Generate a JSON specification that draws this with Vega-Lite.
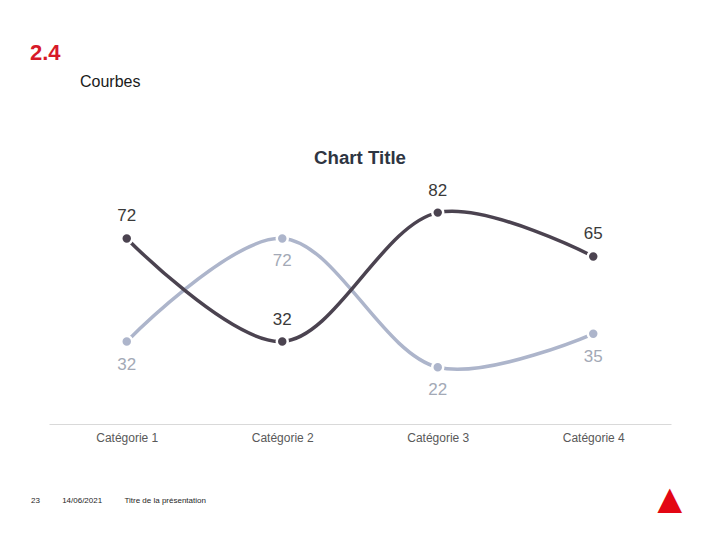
{
  "$schema": "https://vega.github.io/schema/vega-lite/v6.json",
  "background": "white",
  "padding": {"top": 42, "left": 0, "right": 0, "bottom": 0},
  "spacing": 0,
  "config": {
    "view": {"stroke": null},
    "font": "Liberation Sans",
    "concat": {"spacing": 0}
  },
  "datasets": {
    "courbes": [
      {"categorie": "Catégorie 1", "serie": "Série 2", "valeur": 32},
      {"categorie": "Catégorie 2", "serie": "Série 2", "valeur": 72},
      {"categorie": "Catégorie 3", "serie": "Série 2", "valeur": 22},
      {"categorie": "Catégorie 4", "serie": "Série 2", "valeur": 35},
      {"categorie": "Catégorie 1", "serie": "Série 1", "valeur": 72},
      {"categorie": "Catégorie 2", "serie": "Série 1", "valeur": 32},
      {"categorie": "Catégorie 3", "serie": "Série 1", "valeur": 82},
      {"categorie": "Catégorie 4", "serie": "Série 1", "valeur": 65}
    ]
  },
  "vconcat": [
    {
      "width": 500,
      "height": 9,
      "data": {"values": []},
      "mark": "point",
      "encoding": {},
      "title": {"text": "2.4", "anchor": "start", "frame": "group", "fontSize": 22, "fontWeight": "bold", "color": "#d71a28", "dx": -19, "offset": 0, "baseline": "top"}
    },
    {
      "width": 500,
      "height": 59,
      "data": {"values": []},
      "mark": "point",
      "encoding": {},
      "title": {"text": "Courbes", "anchor": "start", "frame": "group", "fontSize": 16, "fontWeight": "normal", "color": "#1a1a1a", "dx": 31, "offset": 0, "baseline": "top"}
    },
    {
      "width": 622,
      "height": 232,
      "data": {"name": "courbes"},
      "title": {"text": "Chart Title", "anchor": "middle", "frame": "group", "fontSize": 18.67, "fontWeight": "bold", "color": "#2e3542", "offset": 13.5, "baseline": "top"},
      "encoding": {
        "x": {
          "field": "categorie",
          "type": "nominal",
          "sort": ["Catégorie 1", "Catégorie 2", "Catégorie 3", "Catégorie 4"],
          "axis": {"title": null, "labelAngle": 0, "labelFontSize": 12, "labelColor": "#595959", "ticks": false, "domainColor": "#d9d9d9", "domainWidth": 1, "labelPadding": 8, "grid": false}
        },
        "y": {
          "field": "valeur",
          "type": "quantitative",
          "scale": {"domain": [0, 90]},
          "axis": {"labels": false, "ticks": false, "domain": false, "grid": false, "title": null, "minExtent": 49, "maxExtent": 49}
        }
      },
      "layer": [
        {
          "mark": {"type": "line", "interpolate": "catmull-rom", "strokeWidth": 3.5, "strokeCap": "round"},
          "encoding": {
            "color": {"field": "serie", "type": "nominal", "scale": {"domain": ["Série 1", "Série 2"], "range": ["#4b4350", "#adb5cb"]}, "legend": null}
          }
        },
        {
          "mark": {"type": "point", "filled": true, "size": 120, "stroke": "white", "strokeWidth": 2.5, "opacity": 1},
          "encoding": {
            "color": {"field": "serie", "type": "nominal", "scale": {"domain": ["Série 1", "Série 2"], "range": ["#4b4350", "#adb5cb"]}, "legend": null}
          }
        },
        {
          "transform": [{"filter": "datum.serie === 'Série 1'"}],
          "mark": {"type": "text", "dy": -22, "fontSize": 17, "color": "#3a3a3a", "baseline": "middle"},
          "encoding": {"text": {"field": "valeur", "type": "quantitative"}}
        },
        {
          "transform": [{"filter": "datum.serie === 'Série 2'"}],
          "mark": {"type": "text", "dy": 23, "fontSize": 17, "color": "#a3a9b6", "baseline": "middle"},
          "encoding": {"text": {"field": "valeur", "type": "quantitative"}}
        }
      ]
    },
    {
      "hconcat": [
        {
          "width": 600,
          "height": 54,
          "data": {"values": []},
          "mark": "point",
          "encoding": {},
          "title": {"text": "23\u00a0\u00a0\u00a0\u00a0\u00a0\u00a0\u00a0\u00a0\u00a0\u00a014/06/2021\u00a0\u00a0\u00a0\u00a0\u00a0\u00a0\u00a0\u00a0\u00a0\u00a0Titre de la présentation", "orient": "bottom", "anchor": "start", "frame": "group", "fontSize": 8, "fontWeight": "normal", "color": "#262626", "dx": -18, "offset": 0, "baseline": "top"}
        },
        {
          "width": 60,
          "height": 37,
          "data": {"values": []},
          "mark": "point",
          "encoding": {},
          "title": {"text": "▲", "orient": "bottom", "anchor": "start", "frame": "group", "fontSize": 42, "fontWeight": "normal", "color": "#e30613", "dx": 0, "offset": 0, "baseline": "top"}
        }
      ]
    }
  ]
}
